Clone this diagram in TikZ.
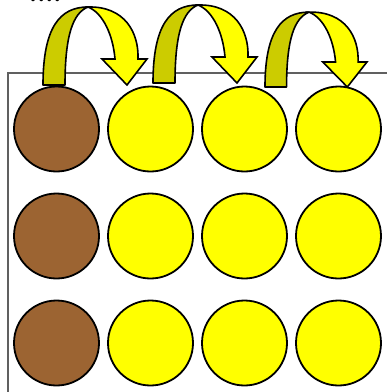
\documentclass[tikz,border=0pt]{standalone}
\usepackage{fontspec}
\newfontfamily\calib{Carlito}
\definecolor{brownfill}{HTML}{9C6432}
\definecolor{darkband}{HTML}{CCCC00}
\definecolor{frameline}{HTML}{606060}
\definecolor{ballyellow}{HTML}{FFFF00}
\tikzset{
  ball/.style={circle, draw=black, line width=1.8pt, minimum size=85pt, inner sep=0pt},
  brownball/.style={ball, fill=brownfill},
  yellowball/.style={ball, fill=ballyellow},
  bandback/.style={fill=darkband, draw=black, line width=1.6pt, line join=round},
  bandfront/.style={fill=ballyellow, draw=black, line width=1.6pt, line join=miter},
  pics/hop/.style={code={
    \path[bandback] (0,0) .. controls (0,-58) and (17,-78) .. (45,-78)
       .. controls (30,-72) and (22,-50) .. (22,0) -- cycle;
    \path[bandfront] (45,-78) .. controls (82,-79) and (96,-52) .. (95,-26)
       -- (104,-26) -- (84,0) -- (59,-26) -- (72,-26)
       .. controls (70,-50) and (60,-72) .. (45,-78) -- cycle;
  }}
}
\begin{document}
\begin{tikzpicture}[x=1pt,y=-1pt]
\useasboundingbox (0,0) rectangle (387,392);
\fill[white] (0,0) rectangle (387,392);
\node[anchor=base west, inner sep=0pt, font=\calib\fontsize{32}{32}\selectfont] (dots) at (29,1.6) {....};
\coordinate (fbl) at (8,393);
\coordinate (ftl) at (8,73);
\coordinate (ftr) at (388,73);
\draw[frameline, line width=1.2pt] (fbl) -- (ftl) -- (ftr);
\pic at (43,85) {hop};
\pic at (153,83) {hop};
\pic[yscale=0.96, xscale=0.98] at (265,87) {hop};
\foreach \r/\y in {1/129,2/236,3/343}{
  \node[brownball] (b\r1) at (56.5,\y) {};
  \node[yellowball] (b\r2) at (150.5,\y) {};
  \node[yellowball] (b\r3) at (244.5,\y) {};
  \node[yellowball] (b\r4) at (338.5,\y) {};
}
\end{tikzpicture}
\end{document}
